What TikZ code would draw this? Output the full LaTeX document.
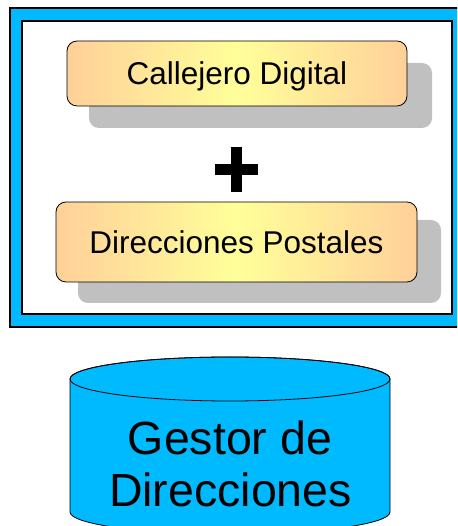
\documentclass[tikz,border=0pt]{standalone}
\usepackage{fontspec}
\setmainfont{Liberation Sans}
\definecolor{skyb}{RGB}{0,186,255}
\definecolor{peach}{RGB}{255,208,154}
\definecolor{lemon}{RGB}{255,255,153}
\definecolor{shadegray}{RGB}{192,192,192}
\begin{document}
\begin{tikzpicture}[x=1pt,y=1pt,
  box/.style={draw=black, line width=0.8pt, rounded corners=10pt,
    left color=peach, right color=peach, middle color=lemon,
    font=\fontsize{31.5}{36}\selectfont, text height=22.5pt, text depth=0pt, inner sep=0pt},
  shadowbox/.style={fill=shadegray, rounded corners=10pt, draw=none, inner sep=0pt},
  plusbar/.style={fill=black, draw=none, inner sep=0pt},
  cyltext/.style={font=\fontsize{46.5}{52}\selectfont, anchor=base, inner sep=0pt}]
\useasboundingbox (0,0) rectangle (457,526);
\clip (0,0) rectangle (457,526);
% frame
\draw[line width=1.2pt, fill=skyb] (10,518) rectangle (470,199);
\draw[line width=1.2pt, fill=white] (22,505) rectangle (452,212);
% box 1
\node[shadowbox, minimum width=343pt, minimum height=65pt] (s1) at (260.5,430.5) {};
\node[box, minimum width=340pt, minimum height=65pt] (b1) at (237,452.5) {Callejero Digital};
% plus
\node[plusbar, minimum width=11pt, minimum height=45pt] (pv) at (236.5,356.5) {};
\node[plusbar, minimum width=43pt, minimum height=11pt] (ph) at (236.5,356.5) {};
% box 2
\node[shadowbox, minimum width=363pt, minimum height=83pt] (s2) at (259.5,264.5) {};
\node[box, minimum width=361pt, minimum height=80pt] (b2) at (236.5,284) {Direcciones Postales};
% cylinder
\draw[line width=0.8pt, fill=skyb] (70,147) -- (70,14)
  arc[start angle=180, end angle=360, x radius=160, y radius=22]
  -- (390,147)
  arc[start angle=0, end angle=180, x radius=160, y radius=22] -- cycle;
\draw[line width=0.8pt] (230,147) ellipse [x radius=160, y radius=22];
\node[cyltext] (g1) at (230,71) {Gestor de};
\node[cyltext] (g2) at (230.5,19) {Direcciones};
\end{tikzpicture}
\end{document}
